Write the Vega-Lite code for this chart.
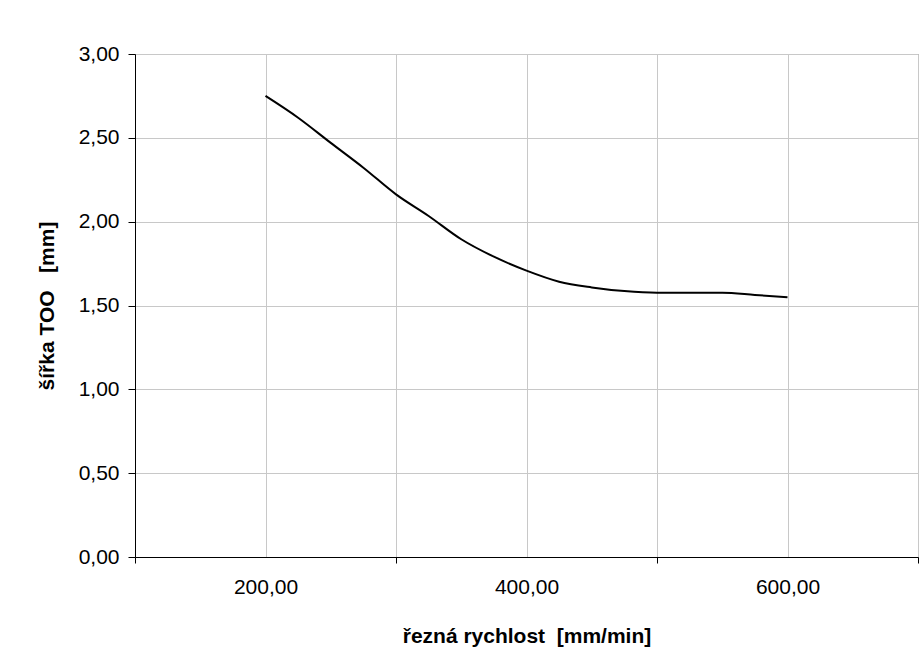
{
  "$schema": "https://vega.github.io/schema/vega-lite/v6.json",
  "autosize": "none",
  "width": 783,
  "height": 503,
  "padding": {"left": 135, "top": 54, "right": 4, "bottom": 111},
  "background": "white",
  "config": {
    "view": {"stroke": "#808080", "strokeWidth": 1},
    "font": "Liberation Sans",
    "axis": {
      "gridColor": "#c8c8c8",
      "gridWidth": 1,
      "domainColor": "black",
      "tickColor": "black",
      "labelFont": "Liberation Sans",
      "labelFontSize": 21,
      "labelColor": "black",
      "titleFont": "Liberation Sans",
      "titleFontSize": 21,
      "titleFontWeight": "bold",
      "titleColor": "black"
    }
  },
  "data": {
    "values": [
      {"v": 200, "s": 2.75},
      {"v": 225, "s": 2.62},
      {"v": 250, "s": 2.47},
      {"v": 275, "s": 2.322},
      {"v": 300, "s": 2.163},
      {"v": 325, "s": 2.034},
      {"v": 350, "s": 1.895},
      {"v": 375, "s": 1.791},
      {"v": 400, "s": 1.708},
      {"v": 425, "s": 1.642},
      {"v": 450, "s": 1.608},
      {"v": 475, "s": 1.586},
      {"v": 500, "s": 1.576},
      {"v": 525, "s": 1.576},
      {"v": 550, "s": 1.576},
      {"v": 575, "s": 1.563},
      {"v": 600, "s": 1.549}
    ]
  },
  "mark": {"type": "line", "color": "black", "strokeWidth": 2, "interpolate": "monotone"},
  "encoding": {
    "x": {
      "field": "v",
      "type": "quantitative",
      "scale": {"domain": [100, 700], "nice": false, "zero": false},
      "axis": {
        "title": "řezná rychlost\u00a0\u00a0[mm/min]",
        "values": [100, 200, 300, 400, 500, 600, 700],
        "labelExpr": "datum.value % 200 == 0 ? replace(format(datum.value, '.2f'), '.', ',') : ''",
        "tickSize": 6,
        "tickOpacity": {"condition": {"test": "datum.value % 200 == 100", "value": 1}, "value": 0},
        "labelPadding": 13,
        "titleY": 85,
        "titleBaseline": "alphabetic"
      }
    },
    "y": {
      "field": "s",
      "type": "quantitative",
      "scale": {"domain": [0, 3], "nice": false},
      "axis": {
        "title": "šířka TOO\u00a0\u00a0\u00a0[mm]",
        "values": [0, 0.5, 1, 1.5, 2, 2.5, 3],
        "labelExpr": "replace(format(datum.value, '.2f'), '.', ',')",
        "tickSize": 7,
        "labelPadding": 9,
        "titleX": -82,
        "titleBaseline": "alphabetic",
        "titleAngle": -90
      }
    }
  }
}
